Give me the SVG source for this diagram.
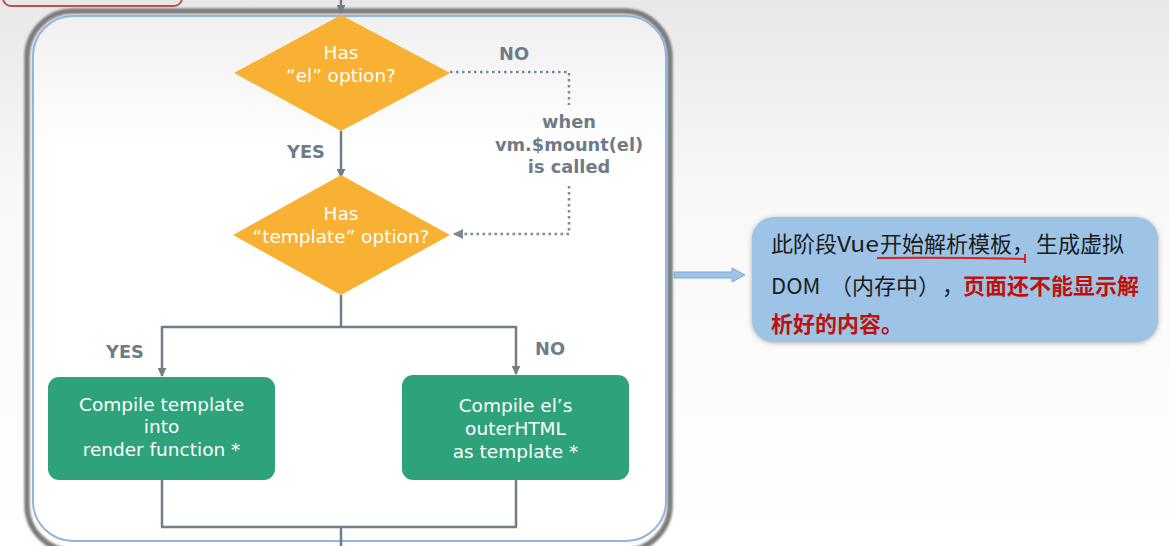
<svg xmlns="http://www.w3.org/2000/svg" width="1169" height="546" viewBox="0 0 1169 546">
  <defs>
    <style>
      .dia { fill: #f8b132; }
      .proc { fill: #2ea37b; }
      .wt { font-family: "DejaVu Sans", "Open Sans", sans-serif; font-size: 18.5px; fill: #ffffff; text-anchor: middle; }
      .lbl { font-family: "DejaVu Sans", "Open Sans", sans-serif; font-weight: bold; font-size: 17.8px; fill: #6e7c87; text-anchor: middle; }
      .con { fill: none; stroke: #6f7e88; stroke-width: 2.5; }
      .dot { fill: none; stroke: #7d8a93; stroke-width: 2.5; stroke-dasharray: 2.5 3.5; }
      .note { font-family: "Noto Sans CJK SC", "Noto Sans", sans-serif; font-size: 22px; fill: #1c1c1c; }
      .red { fill: #c0100c; font-weight: bold; }
    </style>
    <linearGradient id="bg" x1="0" y1="0" x2="0" y2="1">
      <stop offset="0" stop-color="#e8e8e8"/>
      <stop offset="0.35" stop-color="#f8f8f8"/>
      <stop offset="1" stop-color="#ffffff"/>
    </linearGradient>
    <linearGradient id="inner" x1="0" y1="0" x2="0" y2="1">
      <stop offset="0" stop-color="#f0f0f0"/>
      <stop offset="0.25" stop-color="#ffffff"/>
      <stop offset="1" stop-color="#ffffff"/>
    </linearGradient>
    <filter id="blur" x="-5%" y="-5%" width="110%" height="110%">
      <feGaussianBlur stdDeviation="1"/>
    </filter>
    <filter id="shadow" x="-10%" y="-20%" width="120%" height="140%">
      <feDropShadow dx="0" dy="1" stdDeviation="2.5" flood-color="#8a8a8a" flood-opacity="0.7"/>
    </filter>
    <marker id="arr" viewBox="0 0 10 10" refX="9" refY="5" markerWidth="9" markerHeight="9" markerUnits="userSpaceOnUse" orient="auto">
      <path d="M0,0 L10,5 L0,10 z" fill="#6f7e88"/>
    </marker>
    <marker id="arrd" viewBox="0 0 10 10" refX="9" refY="5" markerWidth="10" markerHeight="10" markerUnits="userSpaceOnUse" orient="auto">
      <path d="M0,0 L10,5 L0,10 z" fill="#7d8a93"/>
    </marker>
  </defs>

  <rect x="0" y="0" width="1169" height="546" fill="url(#bg)"/>

  <g id="prev-box">
    <rect x="3" y="-20" width="179" height="26" rx="8" fill="none" stroke="#c0504d" stroke-width="2"/>
  </g>

  <g id="stage-frame">
    <rect x="27" y="11" width="643" height="540" rx="46" fill="none" stroke="#7c7c7c" stroke-width="5.5" filter="url(#blur)"/>
    <rect x="33" y="16" width="633" height="525" rx="40" fill="url(#inner)" stroke="#8fb6e0" stroke-width="2"/>
  </g>

  <g id="connectors">
    <line class="con" x1="341" y1="-2" x2="341" y2="13" marker-end="url(#arr)"/>
    <line class="con" x1="341" y1="131" x2="341" y2="177" marker-end="url(#arr)"/>
    <polyline class="dot" points="450,72 569,72 569,105"/>
    <polyline class="dot" points="569,186 569,234 454,234" marker-end="url(#arrd)"/>
    <line class="con" x1="341" y1="295" x2="341" y2="327"/>
    <line class="con" x1="162" y1="327" x2="517" y2="327"/>
    <line class="con" x1="162" y1="326" x2="162" y2="376" marker-end="url(#arr)"/>
    <line class="con" x1="516" y1="326" x2="516" y2="374" marker-end="url(#arr)"/>
    <line class="con" x1="162" y1="480" x2="162" y2="527"/>
    <line class="con" x1="516" y1="480" x2="516" y2="527"/>
    <line class="con" x1="161" y1="527" x2="517" y2="527"/>
    <line class="con" x1="341" y1="527" x2="341" y2="548"/>
    <text class="lbl" x="514" y="60">NO</text>
    <text class="lbl" x="306" y="158">YES</text>
    <text class="lbl" x="569" y="128">when</text>
    <text class="lbl" x="569" y="151">vm.$mount(el)</text>
    <text class="lbl" x="569" y="173">is called</text>
    <text class="lbl" x="125" y="358">YES</text>
    <text class="lbl" x="550" y="355">NO</text>
    <polygon points="674,272 732,272 732,268 745,275 732,282 732,278 674,278" fill="#9dc3e6" stroke="#7fa8d4" stroke-width="1"/>
  </g>

  <g id="has-el">
    <polygon class="dia" points="341,15 450,73 341,131 234,73"/>
    <text class="wt" x="341" y="59">Has</text>
    <text class="wt" x="341" y="82">“el” option?</text>
  </g>

  <g id="has-template">
    <polygon class="dia" points="341,175 450,235 341,295 233,235"/>
    <text class="wt" x="341" y="220">Has</text>
    <text class="wt" x="341" y="243">“template” option?</text>
  </g>

  <g id="compile-template">
    <rect class="proc" x="48" y="377" width="227" height="103" rx="11"/>
    <text class="wt" x="161.5" y="411">Compile template</text>
    <text class="wt" x="161.5" y="433">into</text>
    <text class="wt" x="161.5" y="456">render function *</text>
  </g>

  <g id="compile-outerhtml">
    <rect class="proc" x="402" y="375" width="227" height="105" rx="11"/>
    <text class="wt" x="515.5" y="412">Compile el’s</text>
    <text class="wt" x="515.5" y="435">outerHTML</text>
    <text class="wt" x="515.5" y="458">as template *</text>
  </g>

  <g id="note">
    <rect x="752" y="217" width="406" height="125" rx="22" fill="#9dc3e6" filter="url(#shadow)"/>
    <text class="note" y="252"><tspan x="771">此阶段</tspan><tspan x="837" textLength="42" lengthAdjust="spacingAndGlyphs">Vue</tspan><tspan x="880">开始解析模板，</tspan><tspan x="1036">生成虚拟</tspan></text>
    <text class="note" y="294"><tspan x="771">DOM</tspan><tspan x="830">（内存中）</tspan><tspan x="942">，</tspan><tspan x="963" class="red">页面还不能显示解</tspan></text>
    <text class="note" y="332"><tspan x="771" class="red">析好的内容。</tspan></text>
    <path d="M877,258 Q950,257 1026,259 M1025,254 L1025,263" fill="none" stroke="#e0201a" stroke-width="2"/>
  </g>
</svg>
